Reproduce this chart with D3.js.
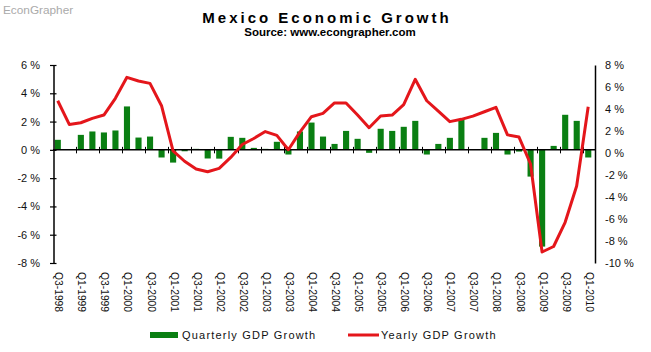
<!DOCTYPE html>
<html>
<head>
<meta charset="utf-8">
<script src="https://cdn.jsdelivr.net/npm/d3@7"></script>
<style>
    body { margin: 0; background: #fff; }
    svg { display: block; font-family: Arial, "Liberation Sans", sans-serif; }
</style>
</head>
<body>
<div id="chart"></div>
<script>
// chart data
const quarters = [
    "Q3-1998","Q4-1998","Q1-1999","Q2-1999","Q3-1999","Q4-1999","Q1-2000","Q2-2000","Q3-2000","Q4-2000",
    "Q1-2001","Q2-2001","Q3-2001","Q4-2001","Q1-2002","Q2-2002","Q3-2002","Q4-2002","Q1-2003","Q2-2003",
    "Q3-2003","Q4-2003","Q1-2004","Q2-2004","Q3-2004","Q4-2004","Q1-2005","Q2-2005","Q3-2005","Q4-2005",
    "Q1-2006","Q2-2006","Q3-2006","Q4-2006","Q1-2007","Q2-2007","Q3-2007","Q4-2007","Q1-2008","Q2-2008",
    "Q3-2008","Q4-2008","Q1-2009","Q2-2009","Q3-2009","Q4-2009","Q1-2010"
];
const quarterlyGrowth = [
    0.71, 0, 1.06, 1.30, 1.23, 1.37, 3.07, 0.87, 0.94, -0.54,
    -0.9, -0.1, 0.07, -0.61, -0.62, 0.92, 0.85, 0.14, 0.07, 0.57,
    -0.33, 1.3, 1.93, 0.94, 0.42, 1.34, 0.78, -0.21, 1.49, 1.34,
    1.63, 2.05, -0.33, 0.42, 0.85, 2.12, 0, 0.85, 1.2, -0.33,
    -0.12, -1.89, -6.84, 0.28, 2.48, 2.05, -0.54
];
const yearlyGrowth = [
    4.75, 2.6, 2.75, 3.15, 3.45, 4.97, 6.88, 6.55, 6.33, 4.3,
    0.2, -0.75, -1.45, -1.7, -1.4, -0.4, 0.77, 1.32, 1.95, 1.6,
    0.3, 1.9, 3.3, 3.6, 4.55, 4.55, 3.45, 2.3, 3.36, 3.45,
    4.4, 6.7, 4.75, 3.8, 2.85, 3.06, 3.35, 3.75, 4.15, 1.65,
    1.45, -1.0, -9.0, -8.5, -6.3, -3.0, 4.2
];
const leftTicks = [-8, -6, -4, -2, 0, 2, 4, 6];
const rightTicks = [-10, -8, -6, -4, -2, 0, 2, 4, 6, 8];
const seriesNames = ["Quarterly GDP Growth", "Yearly GDP Growth"];

const width = 651, height = 352;
const plot = {left: 53, right: 595, top: 65, bottom: 263};
const green = "#0a7f12", red = "#e4161b";

let svg = d3.select("#chart").append("svg")
    .attr("width", width)
    .attr("height", height);

svg.append("rect").attr("width", width).attr("height", height).attr("fill", "#fff");

// watermark + titles
svg.append("text")
    .attr("x", 3).attr("y", 14)
    .attr("font-size", "11.8px")
    .attr("fill", "#aaa")
    .text("EconGrapher");

svg.append("text")
    .attr("x", 327).attr("y", 23)
    .attr("text-anchor", "middle")
    .attr("font-size", "15px")
    .attr("font-weight", "bold")
    .attr("letter-spacing", "3px")
    .text("Mexico Economic Growth");

svg.append("text")
    .attr("x", 330).attr("y", 36)
    .attr("text-anchor", "middle")
    .attr("font-size", "11.5px")
    .attr("font-weight", "bold")
    .text("Source: www.econgrapher.com");

// scales
let x = d3.scaleBand()
    .domain(quarters)
    .range([plot.left, plot.right])
    .padding(0);
let bw = x.bandwidth();

let yLeft = d3.scaleLinear().domain([-8, 6]).range([plot.bottom, plot.top]);
let yRight = d3.scaleLinear().domain([-10, 8]).range([plot.bottom, plot.top]);

// bars
svg.append("g").selectAll("rect")
    .data(quarterlyGrowth)
    .enter().append("rect")
    .attr("x", (d, i) => x(quarters[i]) + bw * 0.15)
    .attr("width", bw * 0.53)
    .attr("y", d => yLeft(Math.max(0, d)))
    .attr("height", d => Math.abs(yLeft(d) - yLeft(0)))
    .attr("fill", green);

// x axis along zero line
let zeroY = yLeft(0);
let xAxisGroup = svg.append("g").attr("class", "x-axis");
xAxisGroup.append("line")
    .attr("x1", plot.left).attr("x2", plot.right)
    .attr("y1", zeroY).attr("y2", zeroY)
    .attr("stroke", "#000").attr("stroke-width", 1.5);
xAxisGroup.selectAll(".xtick")
    .data(quarters.filter((q, i) => i > 0 && i % 2 === 0))
    .enter().append("line")
    .attr("class", "xtick")
    .attr("x1", d => Math.round(x(d)) + 0.5).attr("x2", d => Math.round(x(d)) + 0.5)
    .attr("y1", zeroY - 3).attr("y2", zeroY + 3.5)
    .attr("stroke", "#000");

// category labels, rotated
svg.append("g").selectAll("text")
    .data(quarters.filter((q, i) => i % 2 === 0))
    .enter().append("text")
    .attr("transform", d => `translate(${x(d) + bw * 0.5}, 272) rotate(90)`)
    .attr("dominant-baseline", "central")
    .attr("font-size", "10.3px")
    .attr("fill", "#111")
    .text(d => d);

// left axis
let leftAxis = d3.axisLeft(yLeft)
    .tickValues(leftTicks)
    .tickFormat(d => d + " %")
    .tickSizeInner(3.5)
    .tickSizeOuter(0)
    .tickPadding(10);
let leftGroup = svg.append("g")
    .attr("transform", `translate(${plot.left + 0.5},0)`)
    .call(leftAxis);
leftGroup.selectAll(".tick line").attr("x1", 3).attr("stroke-width", 1.2);
leftGroup.select(".domain").attr("stroke-width", 1.5);
leftGroup.selectAll("text").attr("font-size", "11px").attr("fill", "#111").attr("font-family", null);

// right axis (no tick marks)
let rightAxis = d3.axisRight(yRight)
    .tickValues(rightTicks)
    .tickFormat(d => d + " %")
    .tickSize(0)
    .tickPadding(10);
let rightGroup = svg.append("g")
    .attr("transform", `translate(${plot.right},0)`)
    .call(rightAxis);
rightGroup.select(".domain").attr("stroke-width", 1.5);
rightGroup.selectAll("text").attr("font-size", "11px").attr("fill", "#111").attr("font-family", null);

// yearly line
let line = d3.line()
    .x((d, i) => x(quarters[i]) + bw * 0.41)
    .y(d => yRight(d));

svg.append("path")
    .datum(yearlyGrowth)
    .attr("d", line)
    .attr("fill", "none")
    .attr("stroke", red)
    .attr("stroke-width", 3)
    .attr("stroke-linejoin", "round");

// legend
let legend = svg.append("g").attr("class", "legend");
legend.append("rect")
    .attr("x", 150).attr("y", 332).attr("width", 28).attr("height", 6)
    .attr("fill", green);
legend.append("text")
    .attr("x", 182).attr("y", 339)
    .attr("font-size", "11px")
    .attr("letter-spacing", "1.2px")
    .attr("fill", "#111")
    .text(seriesNames[0]);
legend.append("line")
    .attr("x1", 348).attr("x2", 379).attr("y1", 335).attr("y2", 335)
    .attr("stroke", red).attr("stroke-width", 3);
legend.append("text")
    .attr("x", 381).attr("y", 339)
    .attr("font-size", "11px")
    .attr("letter-spacing", "1.2px")
    .attr("fill", "#111")
    .text(seriesNames[1]);
</script>
</body>
</html>
